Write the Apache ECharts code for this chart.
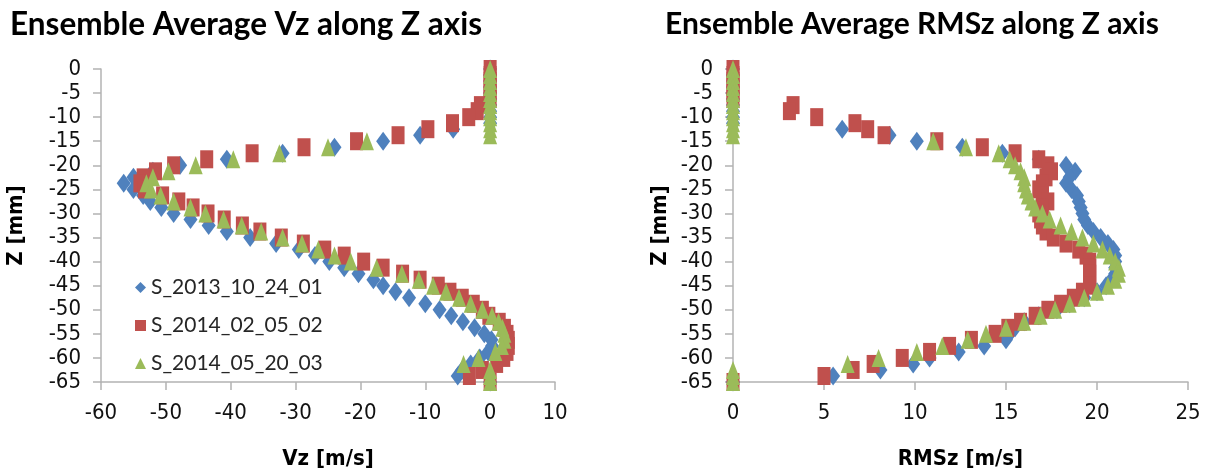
<!DOCTYPE html>
<html>
<head>
<meta charset="utf-8">
<script src="https://cdn.jsdelivr.net/npm/echarts@6/dist/echarts.min.js"></script>
<style>
  html, body { margin: 0; padding: 0; background: #fff; }
  #chart { width: 1211px; height: 475px; }
</style>
</head>
<body>
<div id="chart"></div>
<script>
// Z positions of the measurement stations [mm], shared by all runs
const zPos = [0, -1.25, -2.5, -3.75, -5, -6.25, -7.5, -8.75, -10, -11.25,
  -12.5, -13.75, -15, -16.25, -17.5, -18.75, -20, -21.25, -22.5, -23.75,
  -25, -26.25, -27.5, -28.75, -30, -31.25, -32.5, -33.75, -35, -36.25,
  -37.5, -38.75, -40, -41.25, -42.5, -43.75, -45, -46.25, -47.5, -48.75,
  -50, -51.25, -52.5, -53.75, -55, -56.25, -57.5, -58.75, -60, -61.25,
  -62.5, -63.75, -65];

const runNames = ['S_2013_10_24_01', 'S_2014_02_05_02', 'S_2014_05_20_03'];

// Ensemble average Vz [m/s]
const vzRun1 = [0, 0, 0, 0, 0, 0, 0, 0, 0, 0,
  -5.7, -10.8, -16.5, -24, -32, -40.6, -47.8, -52, -55, -56.5,
  -55, -53.5, -52.4, -50.7, -48.8, -46.2, -43.4, -40.6, -37, -33,
  -29.5, -27, -24.8, -22.5, -20.3, -18, -16.5, -14.6, -12.5, -10,
  -7.8, -6, -4.2, -2.4, -0.9, 0.2, 0.3, -0.3, -1.6, -3,
  -4.3, -5, 0];
const vzRun2 = [0, 0, 0, 0, 0, 0, -1.5, -2, -3.3, -5.8,
  -9.6, -14.2, -20.6, -28.7, -36.7, -43.7, -48.8, -51.6, -53.5, -54,
  -53.3, -50.5, -48, -45.8, -43.5, -41, -38.2, -35.5, -32.2, -28.8,
  -25.5, -22.5, -19.5, -16.5, -13.5, -10.8, -8, -6.2, -4.3, -2.6,
  -1.2, -0.2, 1.4, 2.2, 2.6, 2.8, 2.8, 2.6, 2.1, 1,
  -1.2, -3.2, 0];
const vzRun3 = [0, 0, 0, 0, 0, 0, 0, 0, 0, 0,
  0, 0, -19, -25, -32.5, -39.6, -45.4, -49.6, -52, -53,
  -52.3, -50.8, -48.8, -46.2, -43.9, -41.1, -38.3, -35.3, -32, -29,
  -26.5, -24, -21.5, -17.5, -13.6, -11, -8.8, -6.8, -4.8, -3,
  -1.2, 0.3, 1.3, 1.9, 2.2, 2.2, 1.8, 0.8, -1.8, -4.1,
  0, 0, 0];

// Ensemble average RMSz [m/s]
const rmsRun1 = [0, 0, 0, 0, 0, 0, 0, 0, 0, 0,
  6.0, 8.6, 10.1, 12.6, 14.8, 16.8, 18.3, 18.8, 18.5, 18.3,
  18.6, 18.9, 19.0, 19.1, 19.2, 19.3, 19.5, 19.8, 20.2, 20.6,
  20.9, 21.0, 21.0, 21.0, 21.0, 20.8, 20.5, 20.0, 19.3, 18.5,
  17.8, 16.8, 16.0, 15.5, 15.2, 15.0, 13.8, 12.4, 10.8, 9.9,
  8.1, 5.5, 0];
const rmsRun2 = [0, 0, 0, 0, 0, 0, 3.3, 3.1, 4.6, 6.7,
  7.4, 8.3, 11.2, 13.7, 15.5, 16.8, 17.3, 17.5, 17.2, 17.0,
  16.8, 17.0, 17.3, 17.0, 16.8, 16.9, 17.0, 17.2, 17.6, 18.3,
  19.0, 19.4, 19.6, 19.6, 19.6, 19.6, 19.6, 19.2, 18.7, 18.0,
  17.3, 16.6, 15.8, 15.1, 14.4, 13.1, 11.9, 10.8, 9.3, 7.7,
  6.6, 5.0, 0];
const rmsRun3 = [0, 0, 0, 0, 0, 0, 0, 0, 0, 0,
  0, 0, 11.0, 12.8, 14.6, 15.2, 15.5, 15.8, 16.0, 16.0,
  16.1, 16.2, 16.4, 16.6, 17.0, 17.4, 18.0, 18.6, 19.2, 19.8,
  20.3, 20.7, 21.0, 21.2, 21.2, 21.0, 20.6, 20.0, 19.3, 18.5,
  17.7, 16.9, 16.0, 15.0, 13.9, 12.9, 11.5, 10.1, 8.0, 6.3,
  0, 0, 0];

const vzTicks = { min: -60, max: 10, interval: 10 };
const rmsTicks = { min: 0, max: 25, interval: 5 };
const zTicks = { min: -65, max: 0, interval: 5 };

const colors = ['#4F81BD', '#C0504D', '#9BBB59'];
const symbols = ['diamond', 'rect', 'triangle'];
const symbolSizes = [[14, 19], [13, 18], [14, 18]];

const tickFont = "'Liberation Sans Narrow', 'DejaVu Sans Condensed', 'Arial Narrow', sans-serif";
const titleFont = "Lato, 'Open Sans', sans-serif";

function pairs(vals) {
  return vals.map((v, i) => [v, zPos[i]]);
}

function valueAxis(ticks, gridIndex, name, nameGap) {
  return {
    type: 'value',
    gridIndex: gridIndex,
    min: ticks.min,
    max: ticks.max,
    interval: ticks.interval,
    name: name,
    nameLocation: 'middle',
    nameGap: nameGap,
    nameTextStyle: { fontFamily: tickFont, fontWeight: 'bold', fontSize: 22, color: '#000' },
    axisLine: { show: true, onZero: false, lineStyle: { color: '#B3B3B3', width: 1.5 } },
    axisTick: { show: true, inside: false, length: 8, lineStyle: { color: '#B3B3B3', width: 1.5 } },
    axisLabel: { fontFamily: tickFont, fontSize: 22, color: '#111', margin: 20 },
    splitLine: { show: false }
  };
}

const vzSeries = [vzRun1, vzRun2, vzRun3];
const rmsSeries = [rmsRun1, rmsRun2, rmsRun3];

const series = [];
[vzSeries, rmsSeries].forEach((group, g) => {
  group.forEach((vals, i) => {
    series.push({
      name: runNames[i], type: 'scatter', xAxisIndex: g, yAxisIndex: g,
      symbol: symbols[i], symbolSize: symbolSizes[i],
      itemStyle: { color: colors[i], opacity: 1 },
      data: pairs(vals), z: 2 + i
    });
  });
});

const titleStyle = { fontFamily: titleFont, fontWeight: 'bold', fontSize: 30, color: '#000' };

const chart = echarts.init(document.getElementById('chart'), null, { renderer: 'canvas' });
chart.setOption({
  animation: false,
  backgroundColor: '#fff',
  title: [
    { text: 'Ensemble Average Vz along Z axis', left: 5, top: 4,
      textStyle: Object.assign({}, titleStyle, { fontSize: 31.5 }) },
    { text: 'Ensemble Average RMSz along Z axis', left: 660, top: 4, textStyle: titleStyle }
  ],
  grid: [
    { left: 101, top: 69, width: 454, height: 313 },
    { left: 733, top: 69, width: 455, height: 313 }
  ],
  xAxis: [
    valueAxis(vzTicks, 0, 'Vz [m/s]', 66),
    valueAxis(rmsTicks, 1, 'RMSz [m/s]', 66)
  ],
  yAxis: [
    valueAxis(zTicks, 0, 'Z [mm]', 74),
    valueAxis(zTicks, 1, 'Z [mm]', 62)
  ],
  legend: {
    orient: 'vertical', left: 130, top: 272,
    itemWidth: 11, itemHeight: 11, itemGap: 17, itemStyle: { borderWidth: 0 },
    data: runNames.map((n, i) => ({ name: n, icon: symbols[i] })),
    textStyle: { fontFamily: titleFont, fontSize: 21, color: '#262626' }
  },
  series: series
});
</script>
</body>
</html>
